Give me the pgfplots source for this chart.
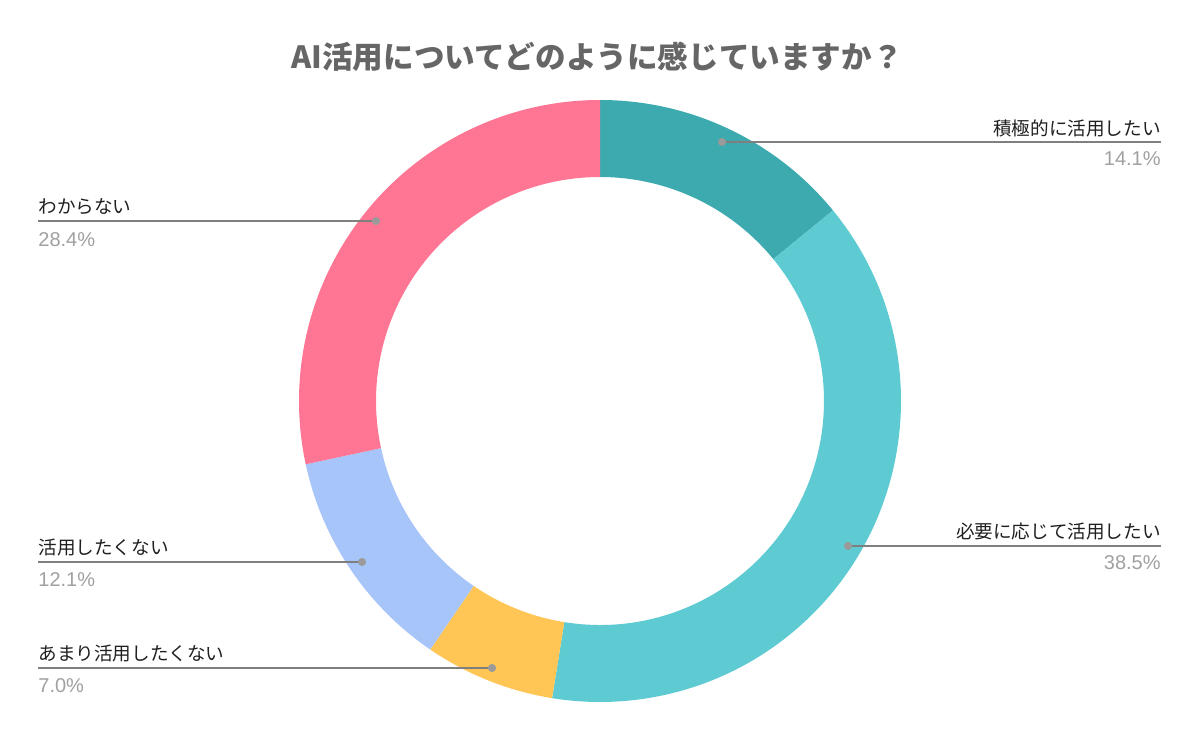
\documentclass[border=0pt]{standalone}
\usepackage{fontspec}
\setmainfont{Liberation Sans}
\newfontfamily\cjk{Noto Sans CJK JP}
\usepackage{pgfplots}
\pgfplotsset{compat=1.18}

\definecolor{cActive}{HTML}{3DAAB0}
\definecolor{cNeed}{HTML}{5ECBD2}
\definecolor{cRarely}{HTML}{FFC655}
\definecolor{cNot}{HTML}{A7C5F8}
\definecolor{cUnknown}{HTML}{FF7594}
\definecolor{cTitle}{HTML}{666666}
\definecolor{cLine}{HTML}{7F7F7F}
\definecolor{cDot}{HTML}{9A9A9A}
\definecolor{cPct}{HTML}{A0A0A0}

% one px of the reference = 0.5pt
\def\rout{150.5pt}
\def\rin{112pt}
\def\total{100.1}

\begin{document}
\begin{tikzpicture}
\begin{axis}[
    scale only axis,
    width=600pt, height=371pt,
    xmin=0, xmax=1200, ymin=0, ymax=742,
    y dir=reverse,
    axis lines=none,
    clip=false,
]
\addplot[draw=none] coordinates {(0,0) (1200,742)};

% donut, clockwise from the top
\xdef\cum{0}
\foreach \v/\c in {14.1/cActive, 38.5/cNeed, 7.0/cRarely, 12.1/cNot, 28.4/cUnknown} {
    \pgfmathsetmacro\aone{90-\cum/\total*360}
    \pgfmathsetmacro\cumn{\cum+\v}
    \pgfmathsetmacro\atwo{90-\cumn/\total*360}
    \edef\temp{\noexpand\fill[\c]
        ([shift={(\aone:\rout)}]axis cs:600,401)
        arc[start angle=\aone, end angle=\atwo, radius=\rout]
        -- ([shift={(\atwo:\rin)}]axis cs:600,401)
        arc[start angle=\atwo, end angle=\aone, radius=\rin] -- cycle;}
    \temp
    \xdef\cum{\cumn}
}

% leader lines
\addplot[cLine, line width=0.8pt] coordinates {(722,142) (1161,142)};
\addplot[cLine, line width=0.8pt] coordinates {(848,546) (1161,546)};
\addplot[cLine, line width=0.8pt] coordinates {(38,221) (376,221)};
\addplot[cLine, line width=0.8pt] coordinates {(38,562) (362,562)};
\addplot[cLine, line width=0.8pt] coordinates {(38,668) (492,668)};
\addplot[only marks, mark=*, mark size=1.8pt, mark options={fill=cDot, draw=cDot}]
    coordinates {(722,142) (848,546) (376,221) (362,562) (492,668)};

% title
\node[font=\cjk\bfseries\fontsize{15.3pt}{18pt}\selectfont, text=cTitle]
    at (axis cs:597,57) {AI活用についてどのように感じていますか？};

% labels
\tikzset{lab/.style={font=\cjk\fontsize{9.3pt}{11pt}\selectfont, text=black!88, inner sep=0pt},
         pct/.style={font=\fontsize{10pt}{12pt}\selectfont, text=cPct, inner sep=0pt}}
\node[lab, anchor=east] at (axis cs:1161,128) {積極的に活用したい};
\node[pct, anchor=east] at (axis cs:1161,159) {14.1\%};
\node[lab, anchor=east] at (axis cs:1161,531) {必要に応じて活用したい};
\node[pct, anchor=east] at (axis cs:1161,563) {38.5\%};
\node[lab, anchor=west] at (axis cs:38,207) {わからない};
\node[pct, anchor=west] at (axis cs:38,240) {28.4\%};
\node[lab, anchor=west] at (axis cs:38,548) {活用したくない};
\node[pct, anchor=west] at (axis cs:38,580) {12.1\%};
\node[lab, anchor=west] at (axis cs:38,654) {あまり活用したくない};
\node[pct, anchor=west] at (axis cs:38,686) {7.0\%};
\end{axis}
\end{tikzpicture}
\end{document}
